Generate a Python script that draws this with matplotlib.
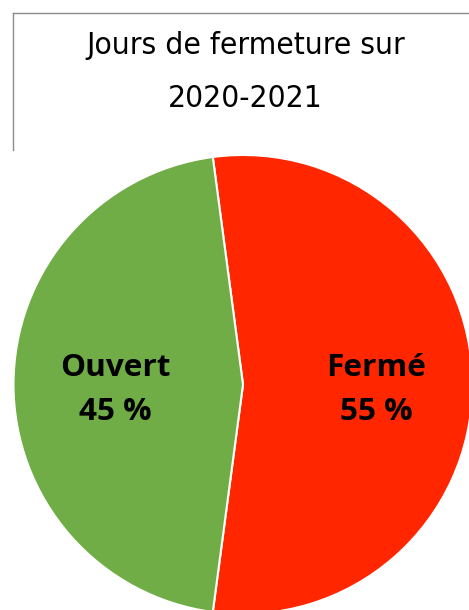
import os
import matplotlib
matplotlib.use("Agg")
import matplotlib.pyplot as plt
from matplotlib.lines import Line2D
from matplotlib import font_manager as fm

# Data
categories = ["Fermé", "Ouvert"]
values = [54.2, 45.8]          # slice sizes
pct_labels = ["55 %", "45 %"]  # labels as printed on the chart
colors = ["#FF2600", "#70AD47"]
title_lines = ["Jours de fermeture sur", "2020-2021"]

W, H = 469, 610
fig = plt.figure(figsize=(W / 100, H / 100), dpi=100)

# pie geometry in pixels
cx, cy, r = 243.0, 384.5, 229.5
ax = fig.add_axes([(cx - r) / W, (H - cy - r) / H, 2 * r / W, 2 * r / H])

start = 360 * values[0] / sum(values) / 2
wedges, _ = ax.pie(values, colors=colors, startangle=start, counterclock=False,
                   radius=1, wedgeprops=dict(edgecolor="white", linewidth=1.5))
for w in wedges:
    w.set_clip_on(False)
ax.set_xlim(-1, 1)
ax.set_ylim(-1, 1)
ax.set_aspect("equal")
ax.axis("off")

# bold label font
files = {os.path.basename(f.fname).lower(): f.fname for f in fm.fontManager.ttflist}
bold_prop = None
for key in ["opensans-bold.ttf", "notosans-bold.ttf", "lato-bold.ttf", "roboto-bold.ttf",
            "liberationsans-bold.ttf", "dejavusans-bold.ttf"]:
    if key in files:
        bold_prop = fm.FontProperties(fname=files[key])
        break
if bold_prop is None:
    bold_prop = fm.FontProperties(family="DejaVu Sans", weight="bold")

label_x_px = [376.3, 115.7]
texts = []
for cat, p, lx in zip(categories, pct_labels, label_x_px):
    xd = (lx - cx) / r
    a = ax.text(xd, (cy - 376) / r, cat, fontproperties=bold_prop, color="black",
                ha="center", va="baseline")
    b = ax.text(xd, (cy - 420) / r, p, fontproperties=bold_prop, color="black",
                ha="center", va="baseline")
    texts += [a, b]

# Title font: look for a condensed family
cands = []
for f in fm.fontManager.ttflist:
    n = f.name.lower()
    fn = os.path.basename(f.fname).lower()
    if ("condensed" in fn or "narrow" in fn or "condensed" in n or "narrow" in n) \
            and "bold" not in fn and "oblique" not in fn and "italic" not in fn:
        cands.append(f)
if cands:
    tprop = fm.FontProperties(fname=cands[0].fname)
else:
    tprop = fm.FontProperties(family="DejaVu Sans")

t1 = fig.text(245.5 / W, 1 - 54 / H, title_lines[0], fontproperties=tprop,
              ha="center", va="baseline", color="black")
t2 = fig.text(245.5 / W, 1 - 107 / H, title_lines[1], fontproperties=tprop,
              ha="center", va="baseline", color="black")
for t in (t1, t2):
    t.set_fontsize(26)
for t in texts:
    t.set_fontsize(20)
fig.canvas.draw()
fs = 26 * 319 / t1.get_window_extent().width
t1.set_fontsize(fs); t2.set_fontsize(fs)
# "Ouvert" is texts[2]; match its width (~110 px)
lfs = 20 * 110 / texts[2].get_window_extent().width
for t in texts:
    t.set_fontsize(lfs)

# frame lines
gray = "#8C8C8C"
fig.add_artist(Line2D([12.5 / W, 1.0], [1 - 12.5 / H, 1 - 12.5 / H], color=gray, lw=1.0,
                      transform=fig.transFigure))
fig.add_artist(Line2D([12.5 / W, 12.5 / W], [1 - 12.5 / H, 1 - 150 / H], color=gray, lw=1.0,
                      transform=fig.transFigure))

fig.savefig("out.png", dpi=100)
